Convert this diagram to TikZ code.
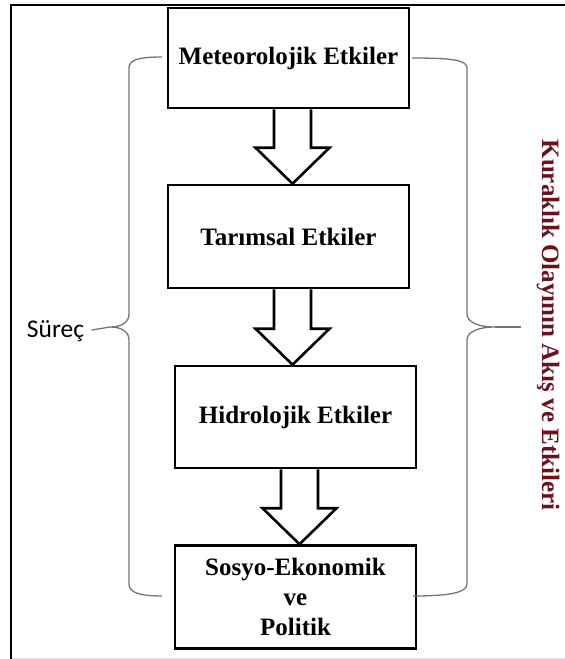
\documentclass[tikz,border=0pt]{standalone}
\usepackage{fontspec}
\setmainfont{Liberation Serif}
\newfontfamily\calibrifont{Carlito}
\usetikzlibrary{calc}
\definecolor{darkmaroon}{RGB}{105,18,28}
\definecolor{bracegray}{RGB}{115,115,115}

\begin{document}
\begin{tikzpicture}[x=1pt,y=-1pt,
    box/.style={draw, line width=2.6pt, minimum width=241pt, inner sep=0pt,
        font=\fontsize{25}{30}\selectfont\bfseries, align=center},
    fatarrow/.style={draw, line width=2.6pt},
    curly/.style={draw=bracegray, line width=1.3pt}]

    \useasboundingbox (0,0) rectangle (565,659);

    % outer frame
    \draw[line width=2.6pt] (11,659) -- (11,5) -- (565,5);
    \draw[black!12, line width=1pt] (12,658) -- (565,658);

    % the four steps
    \node[box, minimum height=100pt] (meteo) at (288.5,58) {Meteorolojik Etkiler};
    \node[box, minimum height=103pt] (tarim) at (288.5,236.5) {Tarımsal Etkiler};
    \node[box, minimum height=102pt] (hidro) at (295.5,417) {Hidrolojik Etkiler};
    \node[box, minimum height=103pt] (sosyo) at (295.5,597)
        {Sosyo-Ekonomik\\ ve\\ Politik};

    % block arrows between the steps
    \foreach \from/\to in {meteo/tarim, tarim/hidro, hidro/sosyo}
        \draw[fatarrow] let \p1=($(\from.south)+(4,0)$), \p2=(\to.north) in
            (\x1-18.5pt,\y1) -- (\x1-18.5pt,\y2+36pt) -- (\x1-37pt,\y2+36pt)
            -- (\x1,\y2) -- (\x1+37pt,\y2+36pt) -- (\x1+18.5pt,\y2+36pt)
            -- (\x1+18.5pt,\y1);

    % labels
    \node[font=\calibrifont\fontsize{25.5}{28}\selectfont, anchor=base] (surec)
        at (55.5,337) {Süreç};
    \node[rotate=-90, text=darkmaroon, font=\fontsize{25}{30}\selectfont\bfseries]
        (title) at (548,325) {Kuraklık Olayının Akış ve Etkileri};

    % braces
    \coordinate (lcusp) at (110,327);
    \coordinate (rcusp) at (495,327);
    \coordinate (rtick) at (521,327);
    \draw[curly] (162,57) .. controls (138,57) and (129,60) .. (129,68) -- (129,314)
        .. controls (129,322) and (122,327) .. (lcusp)
        .. controls (122,327) and (129,332) .. (129,340) -- (129,584)
        .. controls (129,592) and (138,596) .. (162,596);
    \draw[curly, shorten >=4pt] (lcusp) -- (surec.east);
    \draw[curly] (412,58) .. controls (452,58) and (467,60) .. (467,68) -- (467,314)
        .. controls (467,322) and (478,327) .. (rcusp)
        .. controls (478,327) and (467,332) .. (467,340) -- (467,584)
        .. controls (467,592) and (452,596) .. (413,596);
    \draw[curly] (rcusp) -- (rtick);

\end{tikzpicture}
\end{document}
